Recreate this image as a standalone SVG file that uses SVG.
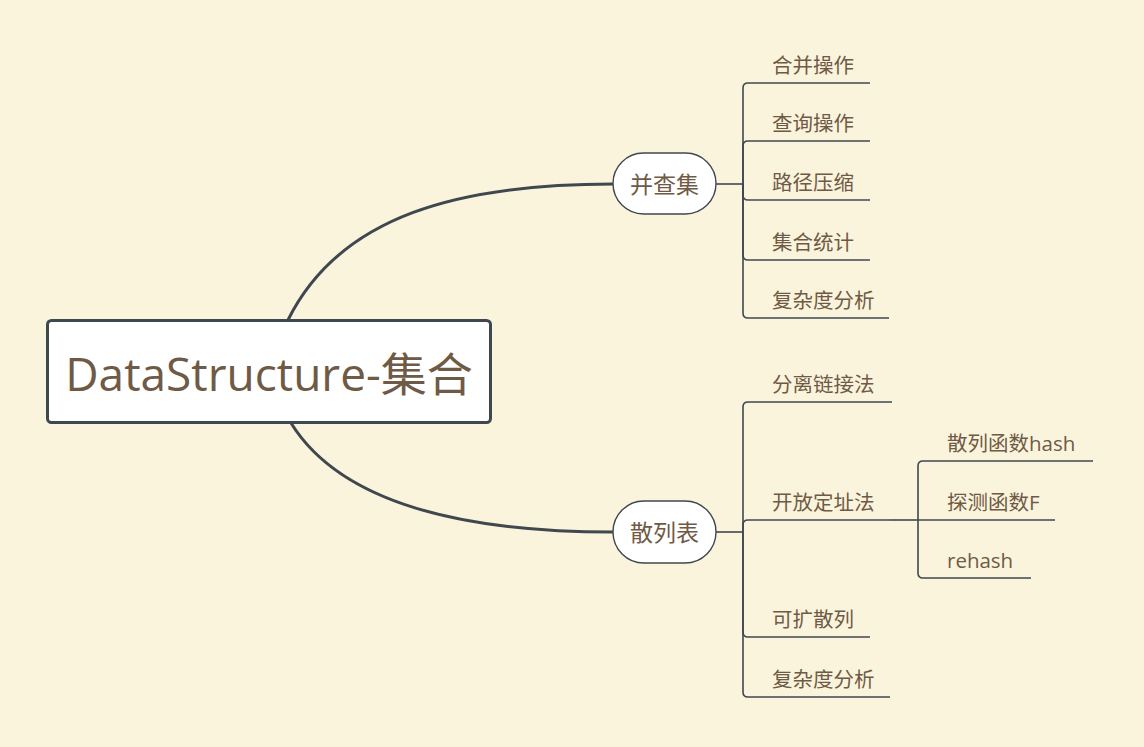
<svg xmlns="http://www.w3.org/2000/svg" width="1144" height="747" viewBox="0 0 1144 747">
<style>
.bg{fill:#FBF4DD}
.main{fill:#fff;stroke:#3F474F;stroke-width:3}
.pill{fill:#fff;stroke:#3F474F;stroke-width:1.4}
.conn{fill:none;stroke:#3F474F;stroke-width:3}
.br{fill:none;stroke:#3F474F;stroke-width:1.6}
text{font-family:"Open Sans","Noto Sans","Noto Sans CJK SC",sans-serif;fill:#6F5A45}
.t0{font-size:46px;text-anchor:middle}
.t1{font-size:23px;text-anchor:middle}
.t2{font-size:20.5px}
</style>
<rect class="bg" x="0" y="0" width="1144" height="747"/>
<g id="connectors">
  <path class="conn" d="M288 320 C340 215 460 184 613 184"/>
  <path class="conn" d="M291 423 C340 502 460 532 613 532"/>
  <path class="br" d="M716 184 H743"/>
  <path class="br" d="M743 184 V88 Q743 83 748 83 H870"/>
  <path class="br" d="M743 184 V146 Q743 141 748 141 H870"/>
  <path class="br" d="M743 184 V195 Q743 200 748 200 H870"/>
  <path class="br" d="M743 184 V255 Q743 260 748 260 H870"/>
  <path class="br" d="M743 184 V313 Q743 318 748 318 H889"/>
  <path class="br" d="M716 532 H743"/>
  <path class="br" d="M743 532 V407 Q743 402 748 402 H892"/>
  <path class="br" d="M743 532 V525 Q743 520 748 520 H890"/>
  <path class="br" d="M743 532 V632 Q743 637 748 637 H870"/>
  <path class="br" d="M743 532 V692 Q743 697 748 697 H890"/>
  <path class="br" d="M890 520 H918"/>
  <path class="br" d="M918 520 V466 Q918 461 923 461 H1093"/>
  <path class="br" d="M918 520 H1055"/>
  <path class="br" d="M918 520 V573 Q918 578 923 578 H1031"/>
</g>
<g id="root">
  <rect class="main" x="47.5" y="320.5" width="443" height="102" rx="4"/>
  <text class="t0" x="269" y="391">DataStructure-集合</text>
</g>
<g id="n-bingchaji">
  <rect class="pill" x="613" y="153" width="103" height="61" rx="30.5"/>
  <text class="t1" x="664.5" y="193">并查集</text>
</g>
<g id="n-sanliebiao">
  <rect class="pill" x="613" y="501" width="103" height="62" rx="31"/>
  <text class="t1" x="664.5" y="541">散列表</text>
</g>
<g id="n-hebing"><text class="t2" x="772" y="73">合并操作</text></g>
<g id="n-chaxun"><text class="t2" x="772" y="131">查询操作</text></g>
<g id="n-lujing"><text class="t2" x="772" y="190">路径压缩</text></g>
<g id="n-tongji"><text class="t2" x="772" y="250">集合统计</text></g>
<g id="n-fuza1"><text class="t2" x="772" y="308">复杂度分析</text></g>
<g id="n-fenli"><text class="t2" x="772" y="392">分离链接法</text></g>
<g id="n-kaifang"><text class="t2" x="772" y="510">开放定址法</text></g>
<g id="n-kekuo"><text class="t2" x="772" y="627">可扩散列</text></g>
<g id="n-fuza2"><text class="t2" x="772" y="687">复杂度分析</text></g>
<g id="n-hash"><text class="t2" x="947" y="451">散列函数hash</text></g>
<g id="n-tance"><text class="t2" x="947" y="510">探测函数F</text></g>
<g id="n-rehash"><text class="t2" x="947" y="568">rehash</text></g>
</svg>
